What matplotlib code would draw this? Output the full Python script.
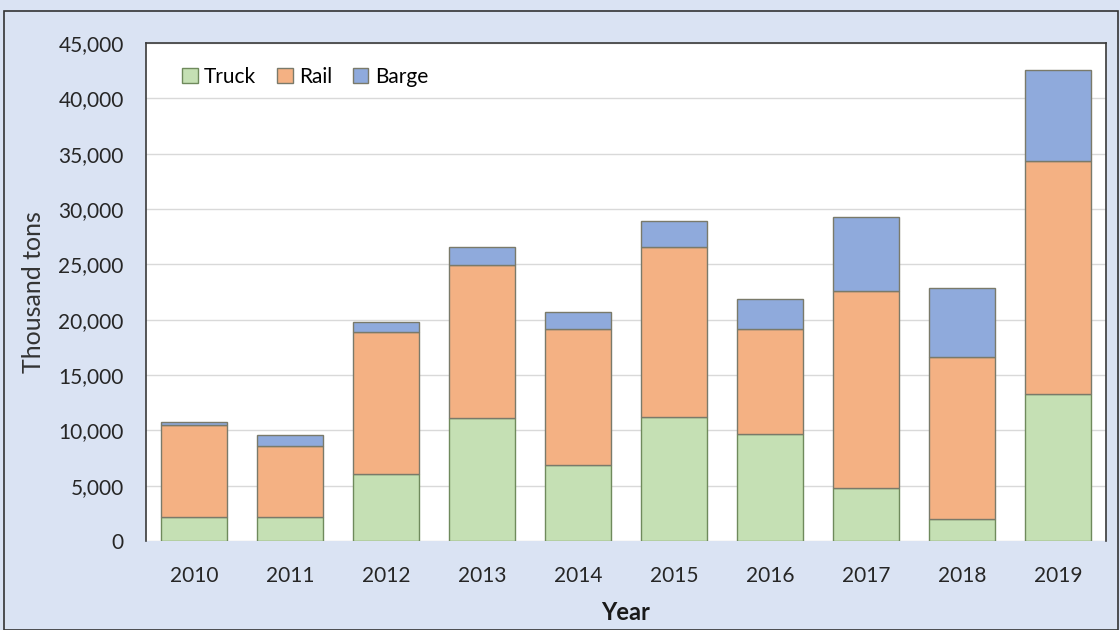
import matplotlib
matplotlib.use("Agg")
import matplotlib.pyplot as plt
from matplotlib.patches import Rectangle
from matplotlib.ticker import FuncFormatter

years = ["2010", "2011", "2012", "2013", "2014", "2015", "2016", "2017", "2018", "2019"]
truck = [2200, 2200, 6050, 11100, 6900, 11200, 9700, 4800, 2000, 13300]
rail = [8300, 6400, 12850, 13800, 12300, 15400, 9500, 17800, 14600, 21000]
barge = [250, 1000, 900, 1700, 1500, 2300, 2700, 6700, 6300, 8300]

plt.rcParams['font.family'] = ['Lato', 'DejaVu Sans']

bg = '#DAE3F3'
fig = plt.figure(figsize=(11.2, 6.3), dpi=100, facecolor=bg)
ax = fig.add_axes([0.1304, 0.1413, 0.8571, 0.7904])
ax.set_facecolor('white')

x = range(len(years))
w = 0.68
ec = '#7a7a6a'
ax.bar(x, truck, w, color='#C5E0B4', edgecolor='#6f8a5c', linewidth=1.0, label='Truck', zorder=3)
ax.bar(x, rail, w, bottom=truck, color='#F4B183', edgecolor=ec, linewidth=1.0, label='Rail', zorder=3)
bottom3 = [a + b for a, b in zip(truck, rail)]
ax.bar(x, barge, w, bottom=bottom3, color='#8FAADC', edgecolor=ec, linewidth=1.0, label='Barge', zorder=3)

ax.set_xlim(-0.5, len(years) - 0.5)
ax.set_ylim(0, 45000)
ax.set_yticks(range(0, 45001, 5000))
ax.yaxis.set_major_formatter(FuncFormatter(lambda v, p: f"{int(v):,}"))
ax.set_xticks(list(x))
ax.set_xticklabels(years)
ax.grid(axis='y', color='#d9d9d9', linewidth=1.0, zorder=0)
ax.tick_params(axis='both', length=0, labelsize=15, colors='#262626')
ax.tick_params(axis='x', pad=18)
ax.tick_params(axis='y', pad=16)

for s in ['left', 'right', 'top']:
    ax.spines[s].set_color('#3a3a3a')
    ax.spines[s].set_linewidth(1.2)
ax.spines['bottom'].set_visible(False)

ax.set_xlabel('Year', fontsize=17, fontweight='bold', color='#1a1a1a', labelpad=11)
ax.set_ylabel('Thousand tons', fontsize=18, color='#333333', labelpad=10)

ax.legend(loc='upper left', ncol=3, frameon=False, fontsize=15,
          handlelength=0.75, handleheight=0.75, handletextpad=0.3,
          columnspacing=1.0, bbox_to_anchor=(0.018, 0.99))

fig.patches.append(Rectangle((0.004, 0.0), 0.994, 0.982, transform=fig.transFigure,
                             fill=False, edgecolor='#333333', linewidth=1.2))

fig.savefig('out.png', dpi=100, facecolor=bg)
